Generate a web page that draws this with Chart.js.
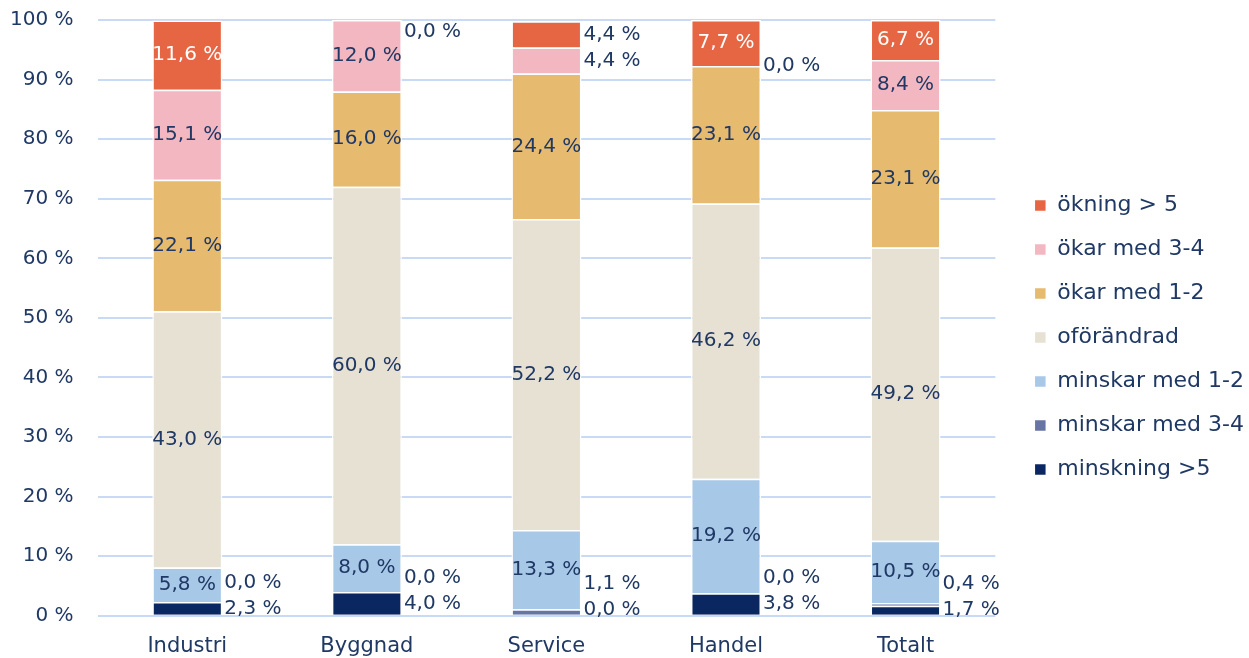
<!DOCTYPE html>
<html lang="sv">
<head>
    <meta charset="UTF-8">
    <title>Förändring</title>
    <script src="https://cdn.jsdelivr.net/npm/chart.js"></script>
    <style>
        html, body { margin: 0; padding: 0; background: #fff; }
        #wrap { width: 1249px; height: 658px; }
    </style>
</head>
<body>
    <div id="wrap"><canvas id="chart" width="1249" height="658"></canvas></div>

    <script>
        const categories = ['Industri', 'Byggnad', 'Service', 'Handel', 'Totalt'];

        const minskning5 = [2.3, 4.0, 0.0, 3.8, 1.7];
        const minskar34 = [0.0, 0.0, 1.1, 0.0, 0.4];
        const minskar12 = [5.8, 8.0, 13.3, 19.2, 10.5];
        const oforandrad = [43.0, 60.0, 52.2, 46.2, 49.2];
        const okar12 = [22.1, 16.0, 24.4, 23.1, 23.1];
        const okar34 = [15.1, 12.0, 4.4, 0.0, 8.4];
        const okning5 = [11.6, 0.0, 4.4, 7.7, 6.7];

        const yTicks = [0, 10, 20, 30, 40, 50, 60, 70, 80, 90, 100];

        const navy = '#1f3864';
        const font = 'DejaVu Sans';
        const legendShift = 17;
        const legendLift = -11;

        function pct(v) {
            return v.toFixed(1).replace('.', ',') + ' %';
        }

        // egna etiketter: stora värden mitt i stapeln, små till höger
        const labelPlugin = {
            id: 'segLabels',
            afterDatasetsDraw(chart) {
                const ctx = chart.ctx;
                const area = chart.chartArea;
                ctx.save();
                ctx.font = '20px "' + font + '"';
                ctx.textBaseline = 'middle';
                categories.forEach((c, i) => {
                    const outside = [];
                    chart.data.datasets.forEach((ds, d) => {
                        const el = chart.getDatasetMeta(d).data[i];
                        const v = ds.data[i];
                        const yc = (el.y + el.base) / 2;
                        if (v >= 5) {
                            ctx.textAlign = 'center';
                            ctx.fillStyle = ds.labelColor || navy;
                            ctx.fillText(pct(v), el.x, yc);
                        } else {
                            outside.push({ v: v, y: yc, x: el.x + el.width / 2 + 2 });
                        }
                    });
                    const mid = (area.top + area.bottom) / 2;
                    const low = outside.filter(o => o.y > mid);
                    const high = outside.filter(o => o.y <= mid);
                    low.sort((a, b) => b.y - a.y);
                    let prev = area.bottom + 20;
                    low.forEach(o => {
                        o.y = Math.min(o.y, area.bottom - 4, prev - 26);
                        prev = o.y;
                    });
                    high.sort((a, b) => a.y - b.y);
                    prev = area.top - 14;
                    high.forEach(o => {
                        o.y = Math.max(o.y, area.top + 12, prev + 26);
                        prev = o.y;
                    });
                    ctx.textAlign = 'left';
                    ctx.fillStyle = navy;
                    outside.forEach(o => ctx.fillText(pct(o.v), o.x, o.y));
                });
                ctx.restore();
            }
        };

        // lite mer luft mellan diagram och förklaring
        const legendGap = {
            id: 'legendGap',
            afterInit(chart) {
                const lg = chart.legend;
                const fit = lg.fit;
                lg.fit = function () {
                    fit.call(this);
                    this.width += legendShift;
                };
                const draw = lg.draw;
                lg.draw = function () {
                    this.ctx.save();
                    this.ctx.translate(legendShift, legendLift);
                    draw.call(this);
                    this.ctx.restore();
                };
            }
        };

        const series = [
            { label: 'minskning >5', data: minskning5, color: '#0b2762' },
            { label: 'minskar med 3-4', data: minskar34, color: '#6675a3' },
            { label: 'minskar med 1-2', data: minskar12, color: '#a7c8e7' },
            { label: 'oförändrad', data: oforandrad, color: '#e7e1d4' },
            { label: 'ökar med 1-2', data: okar12, color: '#e6ba6f' },
            { label: 'ökar med 3-4', data: okar34, color: '#f2b7c0' },
            { label: 'ökning > 5', data: okning5, color: '#e66542', labelColor: '#ffffff' }
        ];

        new Chart(document.getElementById('chart').getContext('2d'), {
            type: 'bar',
            data: {
                labels: categories,
                datasets: series.map(s => ({
                    label: s.label,
                    data: s.data,
                    backgroundColor: s.color,
                    borderColor: '#ffffff',
                    borderWidth: 1.5,
                    labelColor: s.labelColor,
                    barPercentage: 0.39,
                    categoryPercentage: 1
                }))
            },
            options: {
                responsive: false,
                animation: false,
                layout: { padding: { left: -14, top: 20, right: -5, bottom: -19 } },
                scales: {
                    x: {
                        stacked: true,
                        grid: { display: false, drawTicks: false },
                        border: { display: false },
                        ticks: { color: navy, font: { family: font, size: 21 }, padding: 18 }
                    },
                    y: {
                        stacked: true,
                        min: 0,
                        max: 100,
                        afterBuildTicks(axis) {
                            axis.ticks = yTicks.map(v => ({ value: v }));
                        },
                        afterFit(axis) {
                            axis.paddingTop = 0;
                            axis.paddingBottom = 0;
                        },
                        grid: { color: '#c8daf5', lineWidth: 2, drawTicks: false },
                        border: { display: false },
                        ticks: {
                            color: navy,
                            font: { family: font, size: 20 },
                            padding: 24,
                            callback: v => v + ' %'
                        }
                    }
                },
                plugins: {
                    tooltip: { enabled: false },
                    legend: {
                        position: 'right',
                        reverse: true,
                        labels: {
                            color: navy,
                            font: { family: font, size: 22 },
                            boxWidth: 12,
                            boxHeight: 12,
                            padding: 22
                        }
                    }
                }
            },
            plugins: [labelPlugin, legendGap]
        });
    </script>
</body>
</html>
